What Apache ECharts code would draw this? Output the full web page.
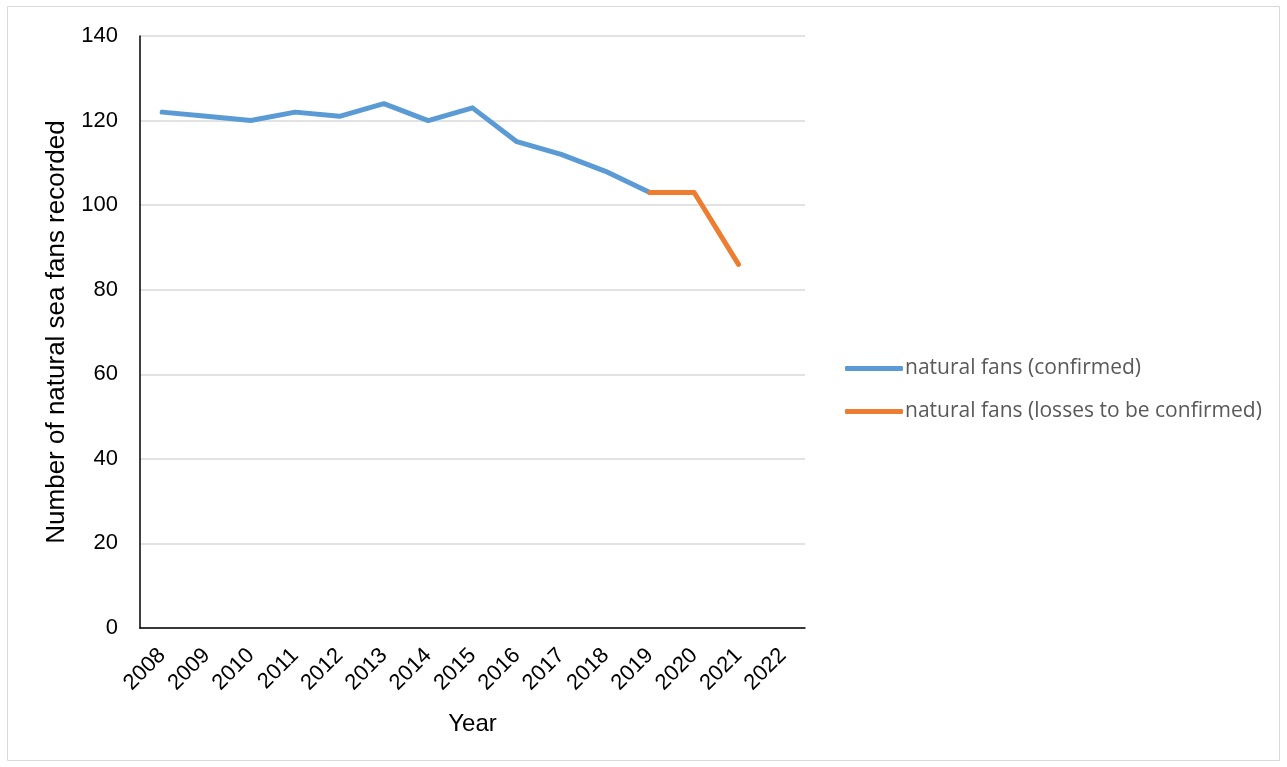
<!DOCTYPE html>
<html>
<head>
<meta charset="utf-8">
<script src="https://cdn.jsdelivr.net/npm/echarts@6/dist/echarts.min.js"></script>
<style>
  html, body { margin: 0; padding: 0; background: #ffffff; }
  #chart { width: 1287px; height: 767px; }
</style>
</head>
<body>
<div id="chart"></div>
<script>
// Years on the category axis
const years = ['2008','2009','2010','2011','2012','2013','2014','2015','2016','2017','2018','2019','2020','2021','2022'];
// Natural sea fans counted each year (confirmed)
const confirmedFans = [122, 121, 120, 122, 121, 124, 120, 123, 115, 112, 108, 103, null, null, null];
// Counts where losses are still to be confirmed
const pendingFans = [null, null, null, null, null, null, null, null, null, null, null, 103, 103, 86, null];
const seriesNames = ['natural fans (confirmed)', 'natural fans (losses to be confirmed)'];
const yTicks = { min: 0, max: 140, interval: 20 };

const chart = echarts.init(document.getElementById('chart'));
const axisFont = 'Liberation Sans, Arial, sans-serif';

chart.setOption({
  animation: false,
  graphic: [{
    type: 'rect',
    shape: { x: 7.5, y: 6.5, width: 1272, height: 754 },
    style: { fill: 'none', stroke: '#d9d9d9', lineWidth: 1 },
    silent: true
  }],
  grid: { left: 140, right: 482, top: 36, bottom: 139 },
  legend: {
    orient: 'vertical',
    left: 840,
    top: 353,
    itemGap: 22,
    itemWidth: 58,
    itemHeight: 5,
    icon: 'roundRect',
    textStyle: { fontFamily: 'Open Sans, Noto Sans, sans-serif', fontSize: 21, color: '#595959', padding: [0, 0, 0, -3] },
    data: seriesNames
  },
  xAxis: {
    type: 'category',
    data: years,
    boundaryGap: true,
    name: 'Year',
    nameLocation: 'middle',
    nameGap: 84,
    nameTextStyle: { fontFamily: axisFont, fontSize: 24, color: '#000' },
    axisLine: { lineStyle: { color: '#000', width: 1.5 } },
    axisTick: { show: false },
    axisLabel: { rotate: 45, fontFamily: axisFont, fontSize: 22, color: '#000', margin: 24, interval: 0 }
  },
  yAxis: {
    type: 'value',
    min: yTicks.min,
    max: yTicks.max,
    interval: yTicks.interval,
    name: 'Number of natural sea fans recorded',
    nameLocation: 'middle',
    nameGap: 70,
    nameTextStyle: { fontFamily: axisFont, fontSize: 26, color: '#000' },
    axisLine: { show: true, lineStyle: { color: '#000', width: 1.5 } },
    axisTick: { show: false },
    axisLabel: { fontFamily: axisFont, fontSize: 22, color: '#000', margin: 22 },
    splitLine: { lineStyle: { color: '#d9d9d9', width: 1.5 } }
  },
  series: [
    {
      name: seriesNames[0],
      type: 'line',
      data: confirmedFans,
      symbol: 'none',
      lineStyle: { color: '#5b9bd5', width: 5, cap: 'round', join: 'round' },
      itemStyle: { color: '#5b9bd5' }
    },
    {
      name: seriesNames[1],
      type: 'line',
      data: pendingFans,
      symbol: 'none',
      lineStyle: { color: '#ed7d31', width: 5, cap: 'round', join: 'round' },
      itemStyle: { color: '#ed7d31' }
    }
  ]
});
</script>
</body>
</html>
